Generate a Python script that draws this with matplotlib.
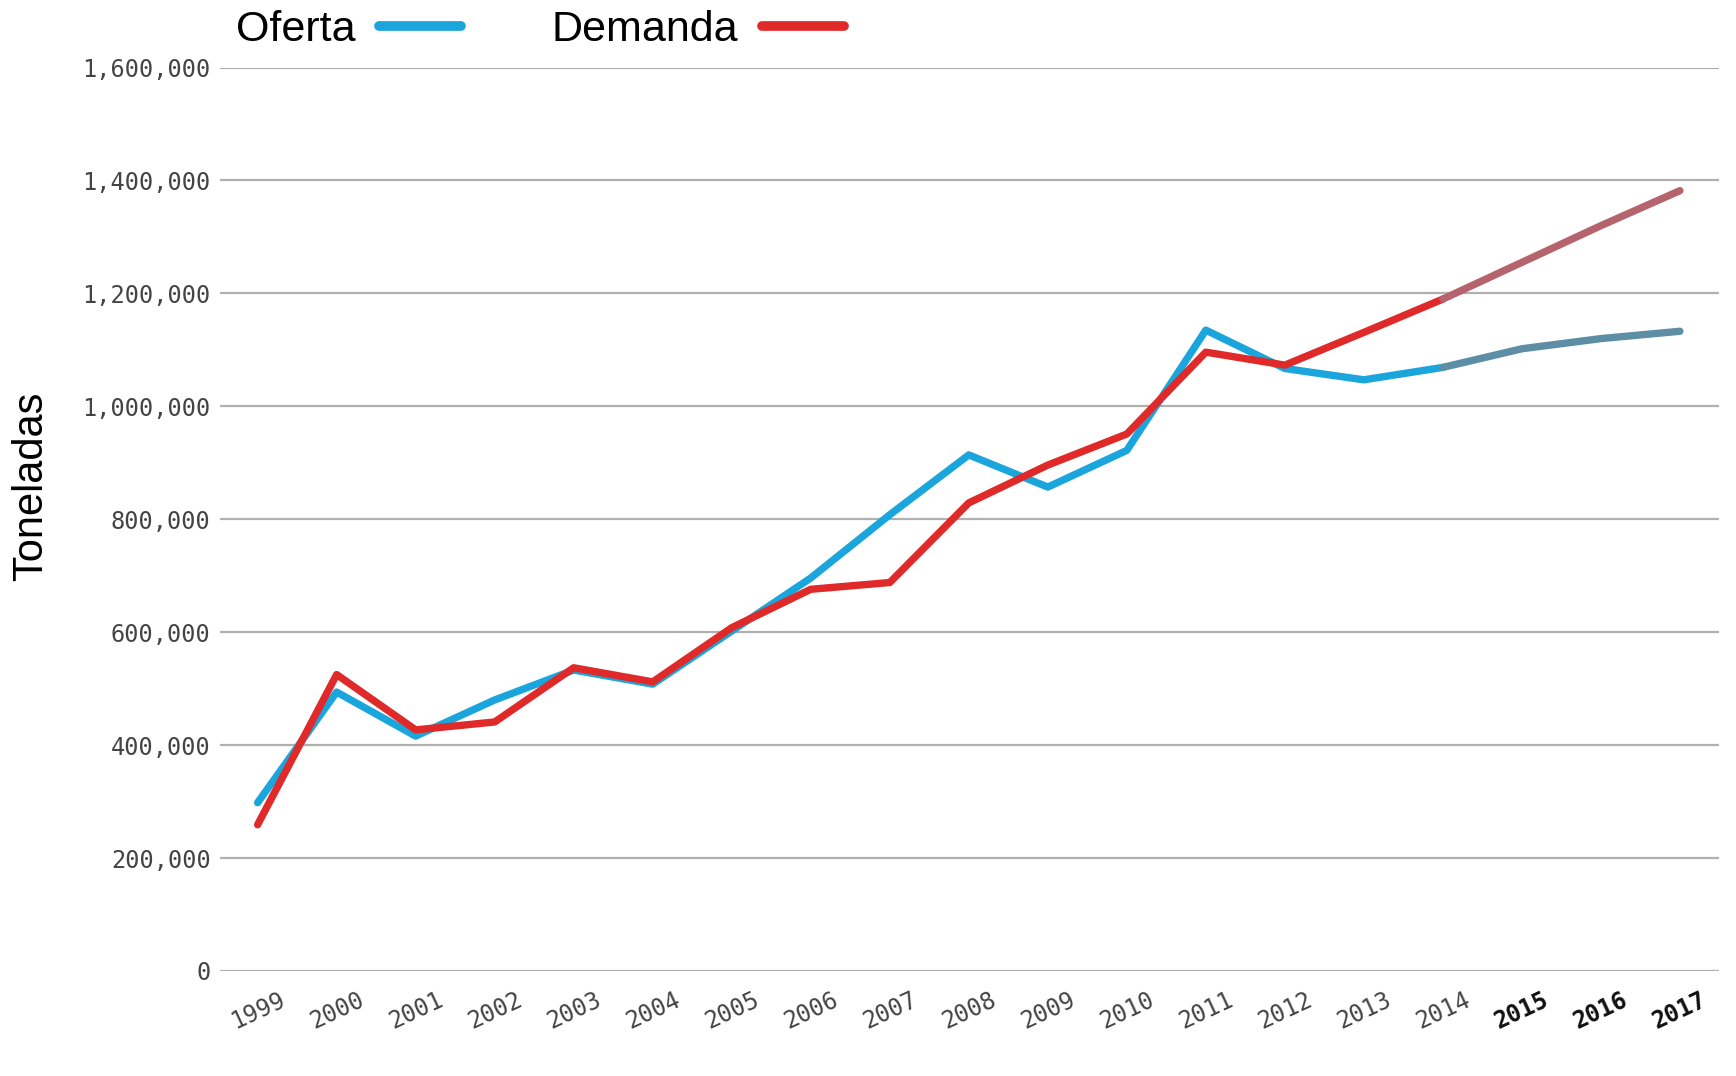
import matplotlib.pyplot as plt
from matplotlib.lines import Line2D

years = list(range(1999, 2018))
oferta = [298000, 494000, 416000, 480000, 533000, 508000, 602000, 696000, 808000, 914000,
          857000, 922000, 1135000, 1067000, 1047000, 1069000, 1102000, 1120000, 1133000]
demanda = [259000, 525000, 427000, 441000, 537000, 512000, 608000, 676000, 688000, 829000,
           896000, 951000, 1096000, 1073000, 1131000, 1190000, 1255000, 1320000, 1382000]
y_ticks = [0, 200000, 400000, 600000, 800000, 1000000, 1200000, 1400000, 1600000]
proj_start = 2014  # from here on the lines are projections

c_of, c_of_p = '#1aa6dc', '#5e8ea6'
c_de, c_de_p = '#e02a2a', '#b5636c'

fig = plt.figure(figsize=(17.36, 10.76), dpi=100)
ax = fig.add_axes([0.127, 0.0976, 0.863, 0.8396])

k = years.index(proj_start)
kw = dict(lw=5.3, solid_capstyle='round', solid_joinstyle='round')
ax.plot(years[:k + 1], oferta[:k + 1], color=c_of, zorder=3, **kw)
ax.plot(years[k:], oferta[k:], color=c_of_p, zorder=3, **kw)
ax.plot(years[:k + 1], demanda[:k + 1], color=c_de, zorder=4, **kw)
ax.plot(years[k:], demanda[k:], color=c_de_p, zorder=4, **kw)

ax.set_xlim(1998.53, 2017.49)
ax.set_ylim(0, 1600000)
ax.set_yticks(y_ticks)
ax.set_yticklabels(['{:,}'.format(v) for v in y_ticks], family='DejaVu Sans Mono', fontsize=17, color='#444444')
ax.set_xticks(years)
ax.set_xticklabels([str(y) for y in years], family='DejaVu Sans Mono', fontsize=17, rotation=25, color='#444444')
for lab in ax.get_xticklabels():
    if int(lab.get_text()) > proj_start:
        lab.set_fontweight('bold')
        lab.set_color('#111111')
ax.tick_params(length=0)
ax.tick_params(axis='y', pad=7)
ax.tick_params(axis='x', pad=12)
ax.grid(axis='y', color='#b0b0b0', lw=1.6)
ax.set_axisbelow(True)
for s in ax.spines.values():
    s.set_visible(False)

fig.text(0.018, 0.548, 'Toneladas', family='Liberation Sans', fontsize=30,
         rotation=90, ha='center', va='center')

handles = [Line2D([], [], color=c_of, lw=7, solid_capstyle='round'),
           Line2D([], [], color=c_de, lw=7, solid_capstyle='round')]
fig.legend(handles, ['Oferta', 'Demanda'], ncol=2, markerfirst=False, frameon=False,
           prop={'family': 'Liberation Sans', 'size': 31}, handlelength=1.9,
           handletextpad=0.55, columnspacing=2.1, loc='center left',
           bbox_to_anchor=(0.136, 0.972), borderaxespad=0, borderpad=0)

fig.savefig('out.png', dpi=100)
